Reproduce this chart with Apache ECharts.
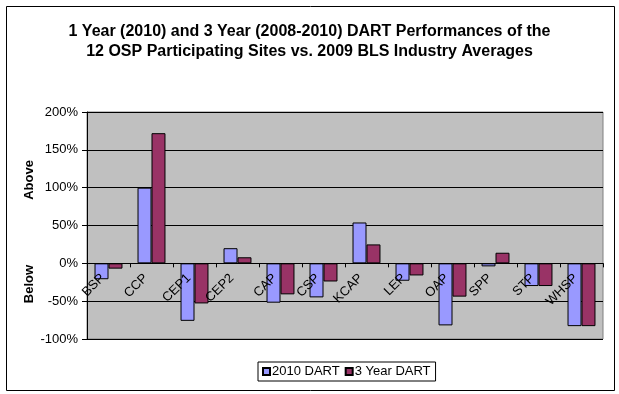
<!DOCTYPE html>
<html>
<head>
<meta charset="utf-8">
<script src="https://cdn.jsdelivr.net/npm/echarts@6/dist/echarts.min.js"></script>
<style>
  html, body { margin: 0; padding: 0; background: #fff; }
  #chart { width: 619px; height: 394px; }
</style>
</head>
<body>
<div id="chart"></div>
<script>
const sites = ['BSP', 'CCP', 'CEP1', 'CEP2', 'CAP', 'CSP', 'KCAP', 'LEP', 'OAP', 'SPP', 'STP', 'WHSP'];
const dart2010 = [-21, 100, -76, 20, -52, -45, 54, -23, -82, -4, -30, -83];
const dart3Year = [-7, 172, -53, 8, -41, -24, 25, -16, -44, 14, -30, -83];
const yTicks = [-100, -50, 0, 50, 100, 150, 200];

const chart = echarts.init(document.getElementById('chart'));
const font = 'Liberation Sans, Arial, sans-serif';

// plot area, px
const grid = { left: 87, right: 16, top: 112, bottom: 55 };
const plotH = 394 - grid.top - grid.bottom;
const yMin = yTicks[0];
const yMax = yTicks[yTicks.length - 1];
// the category axis sits on the 0% line
const zeroOffset = -plotH * (0 - yMin) / (yMax - yMin);

chart.setOption({
  backgroundColor: '#fff',
  animation: false,
  title: {
    text: '1 Year (2010) and 3 Year (2008-2010) DART Performances of the\n12 OSP Participating Sites vs. 2009 BLS Industry Averages',
    left: 'center',
    top: 17,
    textStyle: { fontFamily: font, fontSize: 16, fontWeight: 'bold', color: '#000', lineHeight: 20 }
  },
  legend: {
    left: 258,
    top: 362,
    icon: 'rect',
    itemWidth: 7,
    itemHeight: 7,
    itemGap: 5,
    padding: [3, 5, 3, 4],
    borderColor: '#000',
    borderWidth: 1,
    textStyle: { fontFamily: font, fontSize: 13, color: '#000', padding: [0, 0, 0, -3] },
    data: ['2010 DART', '3 Year DART']
  },
  grid: Object.assign({ show: true, backgroundColor: '#c0c0c0', borderColor: '#808080', borderWidth: 1 }, grid),
  xAxis: {
    type: 'category',
    data: sites,
    offset: zeroOffset,
    z: 10,
    axisLine: { onZero: false, lineStyle: { color: '#000', width: 1 } },
    axisTick: { show: true, length: 4, lineStyle: { color: '#000' } },
    axisLabel: { rotate: 45, fontFamily: font, fontSize: 13, color: '#000', margin: 7, padding: [0, 8, 0, 0] },
    splitLine: { show: false }
  },
  yAxis: {
    type: 'value',
    min: yMin,
    max: yMax,
    interval: 50,
    axisLine: { show: true, lineStyle: { color: '#000' } },
    axisTick: { show: true, length: 5, lineStyle: { color: '#000' } },
    axisLabel: { fontFamily: font, fontSize: 13, color: '#000', margin: 9, formatter: '{value}%' },
    splitLine: { show: true, lineStyle: { color: '#000', width: 1 } }
  },
  graphic: [
    { type: 'rect', left: 4, top: 4, shape: { width: 608, height: 384 }, style: { fill: 'none', stroke: '#000', lineWidth: 1 }, silent: true },
    { type: 'text', x: 29, y: 180, rotation: Math.PI / 2, style: { text: 'Above', font: 'bold 13px ' + font, fill: '#000', align: 'center', verticalAlign: 'middle' } },
    { type: 'text', x: 29, y: 284, rotation: Math.PI / 2, style: { text: 'Below', font: 'bold 13px ' + font, fill: '#000', align: 'center', verticalAlign: 'middle' } }
  ],
  series: [
    {
      name: '2010 DART',
      type: 'bar',
      data: dart2010,
      barGap: '0%',
      barCategoryGap: '35%',
      itemStyle: { color: '#9999ff', borderColor: '#000', borderWidth: 1 }
    },
    {
      name: '3 Year DART',
      type: 'bar',
      data: dart3Year,
      itemStyle: { color: '#993366', borderColor: '#000', borderWidth: 1 }
    }
  ]
});
</script>
</body>
</html>
